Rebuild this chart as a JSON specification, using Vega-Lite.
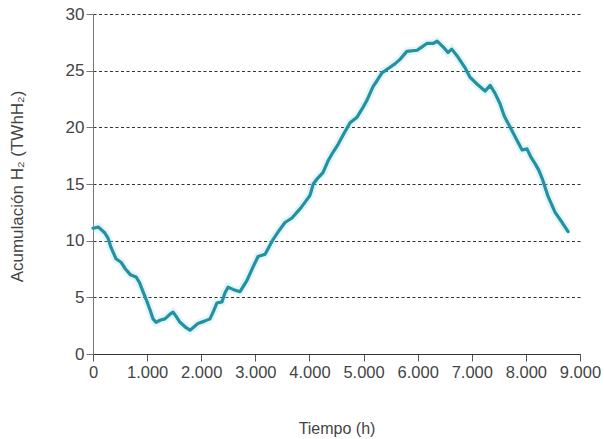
{
  "$schema": "https://vega.github.io/schema/vega-lite/v6.json",
  "width": 487,
  "height": 340,
  "autosize": {"type": "none"},
  "padding": {"left": 93, "top": 14, "right": 24, "bottom": 85},
  "background": "white",
  "config": {
    "view": {"stroke": null},
    "font": "Liberation Sans",
    "axis": {"labelFont": "Liberation Sans", "titleFont": "Liberation Sans", "labelColor": "#444", "titleColor": "#444", "titleFontWeight": "normal"}
  },
  "data": {"values": [
    {"t": 0, "v": 11.1}, {"t": 100, "v": 11.2}, {"t": 216, "v": 10.7}, {"t": 280, "v": 10.2},
    {"t": 333, "v": 9.4}, {"t": 425, "v": 8.4}, {"t": 517, "v": 8.1}, {"t": 600, "v": 7.5},
    {"t": 690, "v": 7.0}, {"t": 795, "v": 6.8}, {"t": 860, "v": 6.3}, {"t": 924, "v": 5.5},
    {"t": 1000, "v": 4.6}, {"t": 1053, "v": 3.9}, {"t": 1110, "v": 3.1}, {"t": 1164, "v": 2.8},
    {"t": 1250, "v": 3.0}, {"t": 1330, "v": 3.1}, {"t": 1420, "v": 3.5}, {"t": 1478, "v": 3.7},
    {"t": 1540, "v": 3.3}, {"t": 1608, "v": 2.8}, {"t": 1700, "v": 2.4}, {"t": 1793, "v": 2.1},
    {"t": 1870, "v": 2.4}, {"t": 1940, "v": 2.7}, {"t": 2060, "v": 2.9}, {"t": 2162, "v": 3.1},
    {"t": 2230, "v": 3.8}, {"t": 2290, "v": 4.5}, {"t": 2383, "v": 4.6}, {"t": 2440, "v": 5.4},
    {"t": 2495, "v": 5.9}, {"t": 2588, "v": 5.7}, {"t": 2717, "v": 5.5}, {"t": 2846, "v": 6.5},
    {"t": 2950, "v": 7.6}, {"t": 3050, "v": 8.6}, {"t": 3180, "v": 8.8}, {"t": 3260, "v": 9.5},
    {"t": 3327, "v": 10.1}, {"t": 3440, "v": 10.9}, {"t": 3548, "v": 11.6}, {"t": 3677, "v": 12.0},
    {"t": 3825, "v": 12.8}, {"t": 3920, "v": 13.4}, {"t": 4010, "v": 14.0}, {"t": 4070, "v": 15.0},
    {"t": 4150, "v": 15.5}, {"t": 4250, "v": 16.0}, {"t": 4340, "v": 17.0}, {"t": 4435, "v": 17.8},
    {"t": 4530, "v": 18.5}, {"t": 4620, "v": 19.3}, {"t": 4750, "v": 20.4}, {"t": 4880, "v": 20.9},
    {"t": 4970, "v": 21.6}, {"t": 5064, "v": 22.4}, {"t": 5175, "v": 23.6}, {"t": 5260, "v": 24.2},
    {"t": 5340, "v": 24.8}, {"t": 5490, "v": 25.3}, {"t": 5580, "v": 25.6}, {"t": 5674, "v": 26.0},
    {"t": 5800, "v": 26.7}, {"t": 5990, "v": 26.8}, {"t": 6080, "v": 27.1}, {"t": 6170, "v": 27.4},
    {"t": 6290, "v": 27.4}, {"t": 6360, "v": 27.6}, {"t": 6470, "v": 27.1}, {"t": 6560, "v": 26.6},
    {"t": 6630, "v": 26.9}, {"t": 6745, "v": 26.2}, {"t": 6870, "v": 25.3}, {"t": 6970, "v": 24.4},
    {"t": 7100, "v": 23.8}, {"t": 7245, "v": 23.2}, {"t": 7340, "v": 23.7}, {"t": 7430, "v": 23.0},
    {"t": 7520, "v": 22.1}, {"t": 7600, "v": 21.0}, {"t": 7710, "v": 20.0}, {"t": 7830, "v": 18.9},
    {"t": 7930, "v": 18.0}, {"t": 8020, "v": 18.1}, {"t": 8090, "v": 17.4}, {"t": 8170, "v": 16.8},
    {"t": 8240, "v": 16.2}, {"t": 8300, "v": 15.5}, {"t": 8410, "v": 13.9}, {"t": 8540, "v": 12.5},
    {"t": 8670, "v": 11.6}, {"t": 8780, "v": 10.8}
  ]},
  "encoding": {
    "x": {
      "field": "t", "type": "quantitative",
      "scale": {"domain": [0, 9000], "nice": false, "zero": false},
      "axis": {
        "values": [0, 1000, 2000, 3000, 4000, 5000, 6000, 7000, 8000, 9000],
        "labelExpr": "replace(format(datum.value, ','), ',', '.')",
        "labelOverlap": false, "labelFlush": false, "labelBound": false,
        "grid": false, "domainColor": "#333", "tickColor": "#555", "tickSize": 7,
        "labelFontSize": 16.5, "labelPadding": 3,
        "title": "Tiempo (h)", "titleFontSize": 16, "titleY": 74, "titleBaseline": "middle"
      }
    },
    "y": {
      "field": "v", "type": "quantitative",
      "scale": {"domain": [0, 30], "nice": false},
      "axis": {
        "values": [0, 5, 10, 15, 20, 25, 30],
        "labelOverlap": false, "labelFlush": false,
        "grid": true, "gridColor": "#333", "gridDash": [3, 2.5], "gridWidth": 1,
        "domainColor": "#777", "tickColor": "#777", "tickSize": 7,
        "labelFontSize": 17, "labelPadding": 2,
        "title": "Acumulación H₂ (TWhH₂)", "titleFontSize": 17,
        "titleX": -76, "titleY": 172, "titleAlign": "center", "titleBaseline": "middle", "titleAngle": -90
      }
    }
  },
  "layer": [
    {"mark": {"type": "line", "color": "#8fd8e0", "strokeWidth": 8, "opacity": 0.25, "interpolate": "linear"}},
    {"mark": {"type": "line", "color": "#2391a2", "strokeWidth": 3.2, "strokeJoin": "round", "strokeCap": "round"}}
  ]
}
